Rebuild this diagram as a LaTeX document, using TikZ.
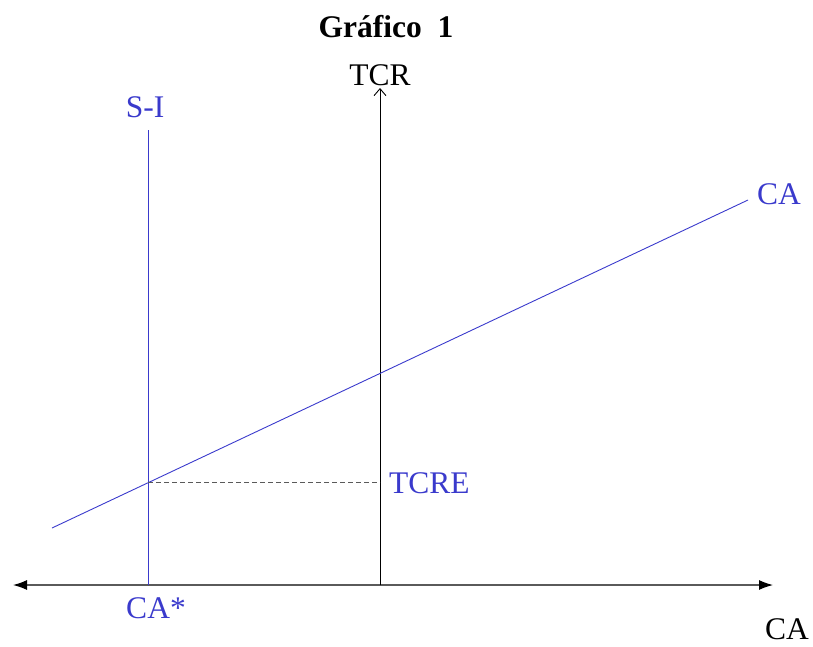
\documentclass[tikz,border=0pt]{standalone}
\usepackage{fontspec}
\setmainfont{Liberation Serif}
\usetikzlibrary{arrows.meta}
\definecolor{curva}{RGB}{58,58,204}
\definecolor{eixo}{RGB}{90,90,90}
\tikzset{
  lbl/.style={font=\fontsize{31.5}{38}\selectfont, inner sep=0pt},
  blu/.style={draw=curva, line width=0.9pt}
}
\begin{document}
\begin{tikzpicture}[x=1pt,y=-1pt]
       \useasboundingbox (0,0) rectangle (813,646);
       % ejes
       \coordinate (xl) at (13,585);\coordinate (xr) at (773,585);
       \coordinate (o) at (380,585);\coordinate (yt) at (380,88);
       \draw[eixo, line width=1.2pt, {Latex[length=14pt,width=10pt,black]}-{Latex[length=14pt,width=10pt,black]}] (xl) -- (xr);
       \draw[line width=0.9pt, -{Straight Barb[length=7pt,width=12pt]}] (o) -- (yt);
       % curvas
       \coordinate (si1) at (148,130);\coordinate (si0) at (148,585);
       \coordinate (ca1) at (52,528);\coordinate (ca2) at (748,200);
       \coordinate (eq) at (148,482.8);\coordinate (tcre) at (380,482.8);
       \draw[blu] (si0) -- (si1);
       \draw[blu] (ca1) -- (ca2);
       \draw[eixo, dashed, line width=1pt, dash pattern=on 5pt off 3pt] (eq) -- (tcre);
       % textos
       \node[lbl, font=\fontsize{31.5}{38}\selectfont\bfseries] (tit) at (386,27) {Gráfico\ \ 1};
       \node[lbl] (tcr) at (380,75) {TCR};
       \node[lbl, text=curva] (si) at (145,107) {S-I};
       \node[lbl, text=curva, anchor=west] (cal) at (757,194) {CA};
       \node[lbl, text=curva, anchor=west] (tcrel) at (389,483) {TCRE};
       \node[lbl, text=curva] (cas) at (156,608) {CA*};
       \node[lbl] (cax) at (787,629) {CA};
\end{tikzpicture}
\end{document}
